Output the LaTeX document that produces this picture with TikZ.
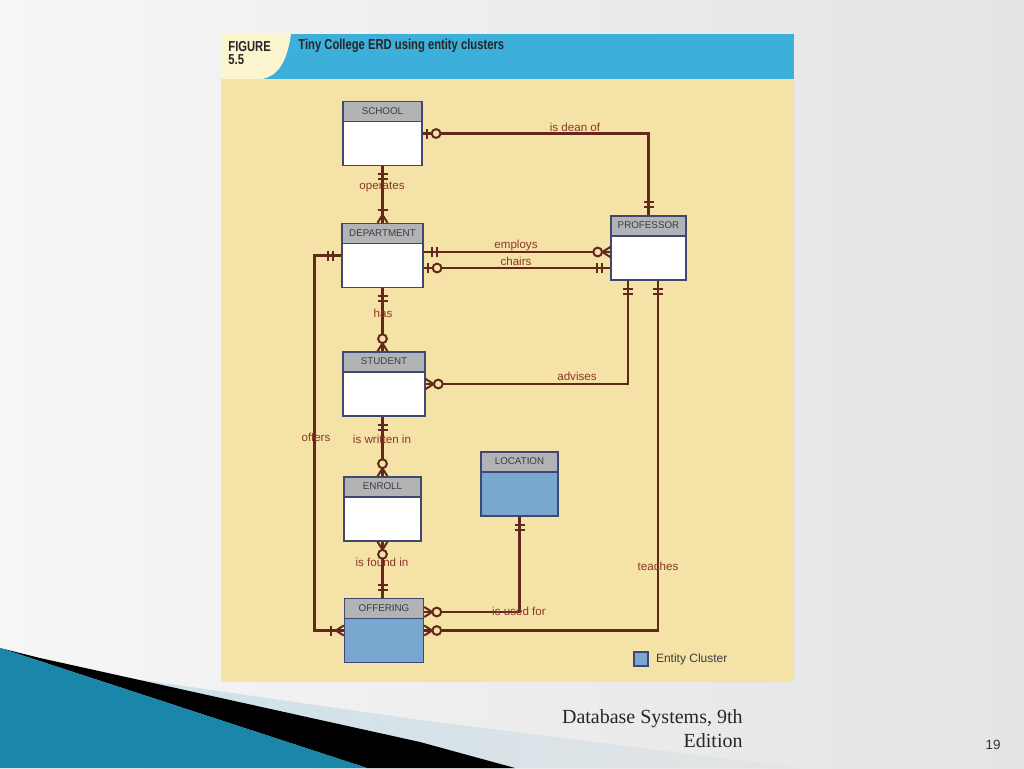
\documentclass[tikz,border=0pt]{standalone}
\usepackage{fontspec}
\setmainfont{Liberation Sans}
\newfontfamily\slidefont{Liberation Serif}
\newfontfamily\figfont[FakeStretch=0.78]{Liberation Sans}
\usetikzlibrary{positioning,decorations.markings}
\definecolor{slidebgl}     {RGB}{246,246,246}
\definecolor{slidebgr}     {RGB}{228,228,228}
\definecolor{decoteal}     {RGB}{ 26,134,170}
\definecolor{decolight}    {RGB}{ 88,188,222}
\definecolor{decopale}     {RGB}{200,225,236}
\definecolor{panelyellow}  {RGB}{244,226,166}
\definecolor{hdrblue}      {RGB}{ 60,175,218}
\definecolor{figcream}     {RGB}{252,246,206}
\definecolor{figtext}      {RGB}{ 38, 38, 38}
\definecolor{hdrgray}      {RGB}{178,179,181}
\definecolor{entborder}    {RGB}{ 62, 72,112}
\definecolor{enttext}      {RGB}{ 60, 60, 64}
\definecolor{clusterblue}  {RGB}{121,167,207}
\definecolor{relline}      {RGB}{ 98, 40, 28}
\definecolor{reltext}      {RGB}{140, 55, 40}

\begin{document}
\begin{tikzpicture}[
    x=0.5pt, y=-0.5pt,
    entity/.style={draw=entborder,line width=0.7pt,fill=white,inner sep=0pt,
        minimum width=39.5pt,minimum height=32pt,
        path picture={
            \fill[hdrgray] (path picture bounding box.north west) rectangle ([yshift=-10pt]path picture bounding box.north east);
            \draw[entborder,line width=0.7pt] ([yshift=-10pt]path picture bounding box.north west) -- ([yshift=-10pt]path picture bounding box.north east);},
        label={[enttxt]north:#1}},
    cluster/.style={entity=#1,fill=clusterblue},
    enttxt/.style={anchor=center,yshift=-5pt,inner sep=0pt,text=enttext,font={\fontsize{4.9}{6}\selectfont}},
    rel/.style={draw=relline,line width=1.25pt},
    tick/.style={draw=relline,line width=1pt},
    ring/.style={draw=relline,line width=1pt,fill=panelyellow},
    reltxt/.style={text=reltext,font={\fontsize{5.8}{7}\selectfont},inner sep=0.5pt},
    figtxt/.style={text=figtext,font={\figfont\bfseries\fontsize{7.2}{6.5}\selectfont},inner sep=0pt},
    mandone start/.style={postaction={decorate,decoration={markings,
        mark=at position 4pt with {\draw[tick] (0,-2.5pt) -- (0,2.5pt);},
        mark=at position 6.5pt with {\draw[tick] (0,-2.5pt) -- (0,2.5pt);}}}},
    mandone end/.style={postaction={decorate,decoration={markings,
        mark=at position -6.5pt with {\draw[tick] (0,-2.5pt) -- (0,2.5pt);},
        mark=at position -4pt with {\draw[tick] (0,-2.5pt) -- (0,2.5pt);}}}},
    optone start/.style={postaction={decorate,decoration={markings,
        mark=at position 2pt with {\draw[tick] (0,-2.5pt) -- (0,2.5pt);},
        mark=at position 6.7pt with {\draw[ring] (0,0) circle (2.2pt);}}}},
    optmany end/.style={postaction={decorate,decoration={markings,
        mark=at position -6.3pt with {\draw[ring] (0,0) circle (2.2pt);},
        mark=at position -4pt with {\draw[tick] (0,0) -- (4pt,2.5pt) (0,0) -- (4pt,-2.5pt);}}}},
    mandmany end/.style={postaction={decorate,decoration={markings,
        mark=at position -6.5pt with {\draw[tick] (0,-2.5pt) -- (0,2.5pt);},
        mark=at position -4pt with {\draw[tick] (0,0) -- (4pt,2.5pt) (0,0) -- (4pt,-2.5pt);}}}},
]
    \useasboundingbox (0,0) rectangle (1024,768);
    \shade[left color=slidebgl,right color=slidebgr] (0,0) rectangle (1024,768);

    % slide corner
    \shade[left color=decopale,right color=slidebgr] (40,660) -- (100,674) -- (420,720) -- (800,768) -- (40,768) -- cycle;
    \fill[black] (0,648) -- (40,658) -- (420,742) -- (515,768) -- (367,768) -- cycle;
    \shade[left color=decoteal,middle color=decolight,right color=decoteal] (0,648) -- (367,768) -- (0,768) -- cycle;

    % figure panel
    \fill[panelyellow] (221,34) rectangle (794,682);
    \fill[hdrblue] (221,34) rectangle (794,79);
    \fill[figcream] (221,34) -- (291,34) .. controls (287,62) and (278,76) .. (262,79) -- (221,79) -- cycle;
    \node[figtxt,anchor=north west,align=left] (fignum)   at (228,41) {FIGURE\\5.5};
    \node[figtxt,anchor=base west]             (figtitle) at (298,49) {Tiny College ERD using entity clusters};

    \node[entity=SCHOOL]                           (school)   at (382.5,133.5) {};
    \node[entity=DEPARTMENT,minimum width=40.5pt]  (dept)     at (382.5,255.5) {};
    \node[entity=PROFESSOR,minimum width=37.5pt]   (prof)     at (648.5,248)   {};
    \node[entity=STUDENT,minimum width=41pt]       (student)  at (384,384)     {};
    \node[entity=ENROLL,minimum width=38.5pt]      (enroll)   at (382.5,509)   {};
    \node[cluster=LOCATION,minimum width=38.5pt]   (location) at (519.5,484)   {};
    \node[cluster=OFFERING]                        (offering) at (384,630.5)   {};

    \draw[rel,optone start,mandone end]   (school.east) -| (prof.north);
    \draw[rel,mandone start,mandmany end] (school.south) -- (dept.north);
    \draw[rel,mandone start,optmany end]  (dept.east |- 0,252) -- (prof.west |- 0,252);
    \draw[rel,optone start,mandone end]   (dept.east |- 0,268) -- (prof.west |- 0,268);
    \draw[rel,mandone start,optmany end]  (dept.south) -- (dept.south |- student.north);
    \draw[rel,mandone start,optmany end]  (prof.south -| 628,0) |- (student.east);
    \draw[rel,mandone start,optmany end]  (prof.south -| 658,0) |- (offering.east);
    \draw[rel,mandone start,optmany end]  (student.south -| enroll.north) -- (enroll.north);
    \draw[rel,mandone start,optmany end]  (offering.north -| enroll.south) -- (enroll.south);
    \draw[rel,mandone start,optmany end]  (location.south) |- (offering.east |- 0,612);
    \draw[rel,mandone start,mandmany end] (dept.west) -- ++(-27,0) |- (offering.west);

    \node[reltxt] (ldean)    at (575,127) {is dean of};
    \node[reltxt] (loperate) at (382,187) {operates};
    \node[reltxt] (lemploy)  at (516,245) {employs};
    \node[reltxt] (lchair)   at (516,261) {chairs};
    \node[reltxt] (lhas)     at (383,313) {has};
    \node[reltxt] (ladvise)  at (577,376) {advises};
    \node[reltxt] (loffer)   at (316,437) {offers};
    \node[reltxt] (lwritten) at (382,439) {is written in};
    \node[reltxt] (lfound)   at (382,562) {is found in};
    \node[reltxt] (lused)    at (519,611) {is used for};
    \node[reltxt] (lteach)   at (658,566) {teaches};

    \node[draw=entborder,line width=0.6pt,fill=clusterblue,minimum size=7pt,inner sep=0pt] (legbox) at (641,659) {};
    \node[text=enttext,font={\fontsize{6}{7}\selectfont},inner sep=0.5pt,right=3pt of legbox] (legtxt) {Entity Cluster};

    \node[text=black!85,font={\slidefont\fontsize{10}{12}\selectfont},align=right,anchor=north east,inner sep=0pt] (credit) at (743,709) {Database Systems, 9th\\Edition};
    \node[text=black!80,font={\fontsize{6.7}{8}\selectfont},inner sep=0pt] (pagenum) at (993,745) {19};
\end{tikzpicture}
\end{document}
